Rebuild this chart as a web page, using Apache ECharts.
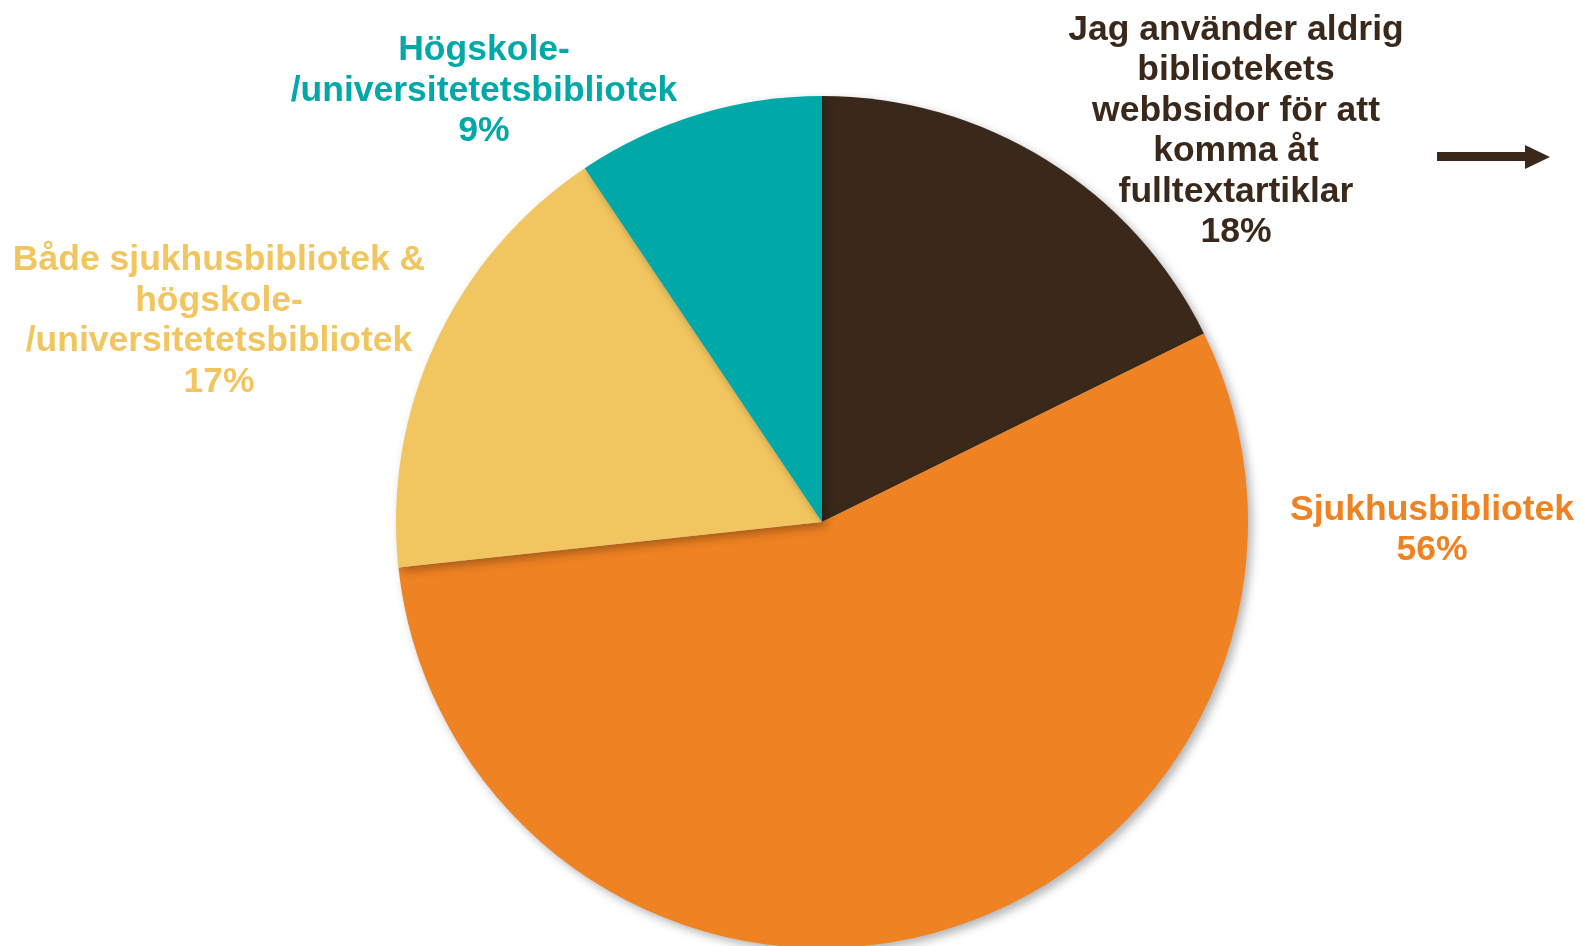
<!DOCTYPE html>
<html><head><meta charset="utf-8">
<script src="https://cdn.jsdelivr.net/npm/echarts@6/dist/echarts.min.js"></script>
<style>html,body{margin:0;padding:0;background:#fff}#c{width:1581px;height:946px}</style>
</head><body><div id="c"></div>
<script>
const categories = [
  'Jag använder aldrig\nbibliotekets\nwebbsidor för att\nkomma åt\nfulltextartiklar',
  'Sjukhusbibliotek',
  'Både sjukhusbibliotek &\nhögskole-\n/universitetetsbibliotek',
  'Högskole-\n/universitetetsbibliotek'
];
const values = [17.7, 55.6, 17.3, 9.4];
const percentLabels = ['18%', '56%', '17%', '9%'];
const colors = ['#3A291B', '#EF8222', '#F1C55F', '#00A8A8'];
const labelPos = [[1236, 131], [1432, 530], [219, 321], [484, 91]];

const chart = echarts.init(document.getElementById('c'));
chart.setOption({
  animation: false,
  series: [{
    type: 'pie',
    center: [822, 522],
    radius: 426,
    startAngle: 90,
    clockwise: true,
    data: categories.map((n, i) => ({
      name: n, value: values[i],
      itemStyle: { color: colors[i] },
      label: { color: colors[i] }
    })),
    itemStyle: { shadowBlur: 10, shadowOffsetX: 4, shadowOffsetY: 4, shadowColor: 'rgba(0,0,0,0.3)' },
    label: {
      show: true,
      position: 'outside',
      formatter: p => p.name + '\n' + percentLabels[p.dataIndex],
      fontFamily: 'Liberation Sans, Arial, sans-serif',
      fontWeight: 'bold',
      fontSize: 35.5,
      lineHeight: 40.5,
      width: 600,
      overflow: 'none',
      align: 'center'
    },
    labelLine: { show: false },
    labelLayout: p => ({ x: labelPos[p.dataIndex][0], y: labelPos[p.dataIndex][1], align: 'center', verticalAlign: 'middle' })
  }],
  graphic: [{
    type: 'polygon',
    shape: { points: [[1437, 152], [1525, 152], [1525, 145], [1550, 157], [1525, 169], [1525, 161], [1437, 161]] },
    style: { fill: '#3A291B' }
  }]
});
</script></body></html>
